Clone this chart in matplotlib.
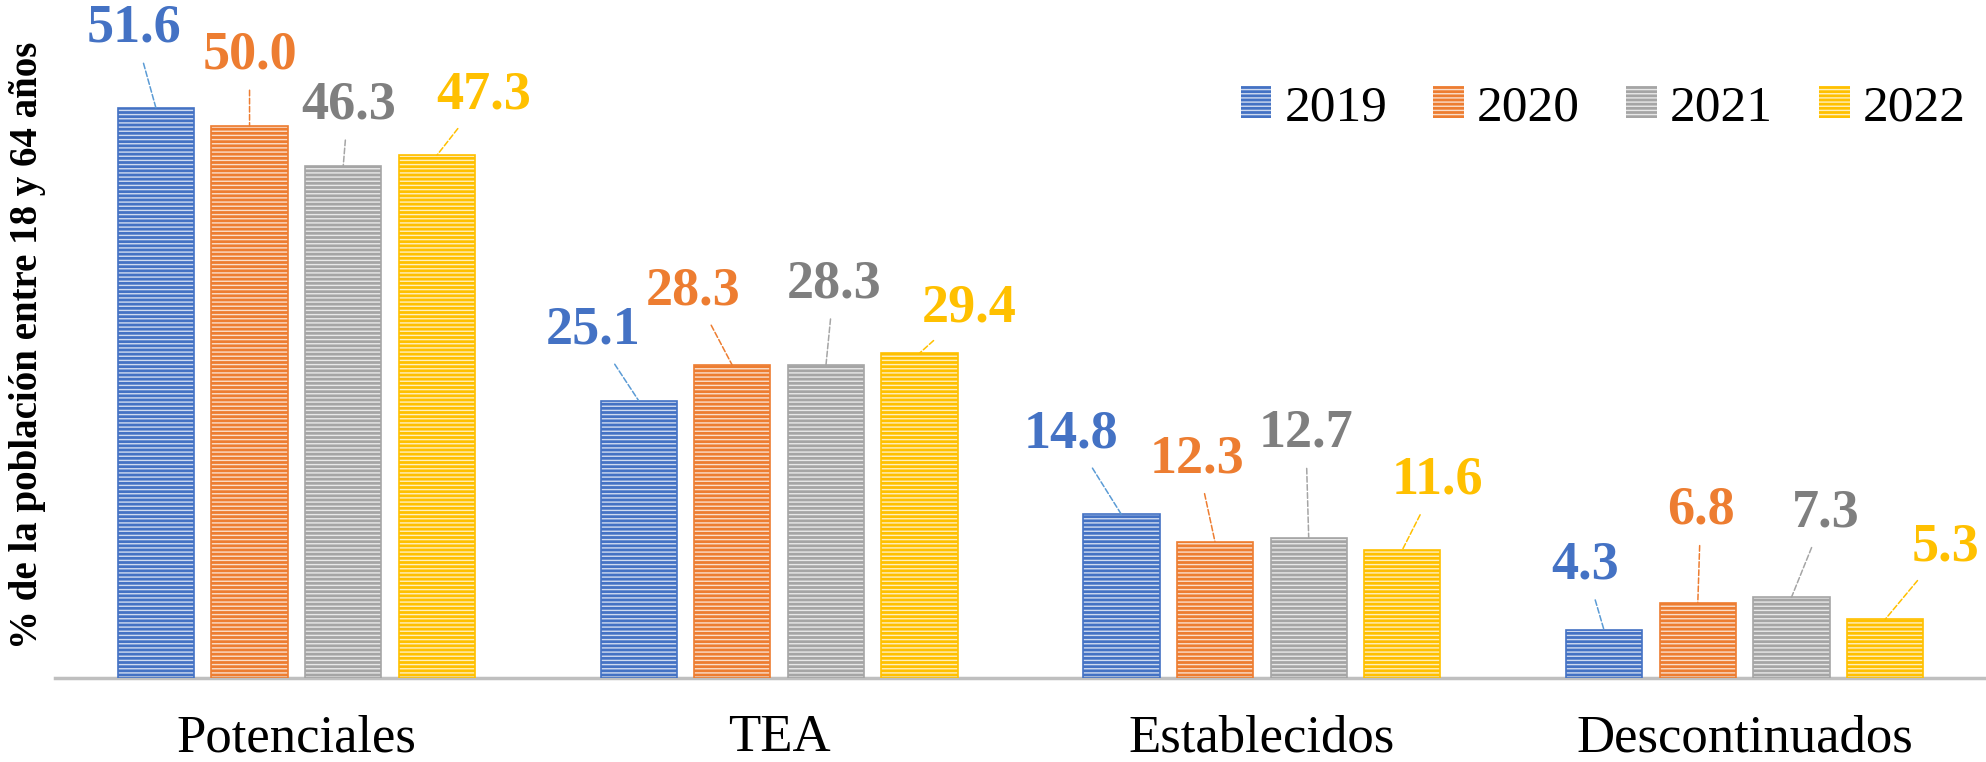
import numpy as np
import matplotlib
matplotlib.use('Agg')
import matplotlib.pyplot as plt

plt.rcParams['font.family'] = 'serif'
plt.rcParams['font.serif'] = ['Liberation Serif', 'Times New Roman', 'DejaVu Serif']
plt.rcParams['hatch.linewidth'] = 1.0

categorias = ['Potenciales', 'TEA', 'Establecidos', 'Descontinuados']
anios = ['2019', '2020', '2021', '2022']
v2019 = [51.6, 25.1, 14.8, 4.3]
v2020 = [50.0, 28.3, 12.3, 6.8]
v2021 = [46.3, 28.3, 12.7, 7.3]
v2022 = [47.3, 29.4, 11.6, 5.3]
series = [v2019, v2020, v2021, v2022]

colores = ['#4472C4', '#ED7D31', '#A5A5A5', '#FFC000']
col_texto = ['#4472C4', '#ED7D31', '#7F7F7F', '#FFC000']
col_guia = ['#5B9BD5', '#ED7D31', '#A5A5A5', '#FFC000']

# desplazamiento de etiquetas (px) respecto al tope de cada barra: [serie][categoria]
off_x = [[-22, -46, -50, -19],
         [0, -39, -18, 3],
         [5, 8, -3, 34],
         [47, 50, 35, 60]]
off_y = [[79, 70, 80, 65],
         [70, 74, 83, 92],
         [61, 81, 104, 84],
         [60, 45, 69, 72]]

W, H = 1986, 762
fig = plt.figure(figsize=(W / 100, H / 100), dpi=100)
ax = fig.add_axes([55 / W, (H - 678) / H, (W - 55) / W, 678 / H])

x = np.arange(len(categorias))
paso = 0.194
ancho = 0.158
px = 72 / 100  # puntos por pixel

handles = []
for i, vals in enumerate(series):
    pos = x + (i - 1.5) * paso
    b = ax.bar(pos, vals, ancho, color=colores[i], edgecolor=(1, 1, 1, 0.75),
               hatch='----', linewidth=0, label=anios[i], zorder=2)
    ax.bar(pos, vals, ancho, fill=False, edgecolor=colores[i], linewidth=1.2, zorder=3)
    handles.append(b)
    for j, v in enumerate(vals):
        ax.annotate(f'{v:.1f}', xy=(pos[j], v),
                    xytext=(off_x[i][j] * px, off_y[i][j] * px), textcoords='offset points',
                    ha='center', va='center', fontsize=39, fontweight='bold',
                    color=col_texto[i],
                    arrowprops=dict(arrowstyle='-', color=col_guia[i], linestyle='--',
                                    linewidth=1.1, shrinkA=5, shrinkB=0))

ax.set_xlim(-0.5, 3.5)
ax.set_ylim(0, 678 / 11.05)
ax.set_xticks(x)
ax.set_xticklabels(categorias, fontsize=38)
ax.tick_params(axis='x', length=0, pad=26)
ax.set_yticks([])
for s in ['top', 'right', 'left']:
    ax.spines[s].set_visible(False)
ax.spines['bottom'].set_color('#BFBFBF')
ax.spines['bottom'].set_linewidth(2.5)

fig.text(28 / W, 1 - 345 / H, '% de la población entre 18 y 64 años', rotation=90,
         ha='center', va='center', fontsize=28, fontweight='bold')

fig.legend(handles=handles, loc='center right', bbox_to_anchor=(1966 / W, 1 - 108 / H),
           ncol=4, frameon=False, fontsize=37, handlelength=0.6, handleheight=0.6,
           handletextpad=0.25, columnspacing=0.9, borderpad=0, borderaxespad=0)

fig.savefig('out.png', dpi=100)
